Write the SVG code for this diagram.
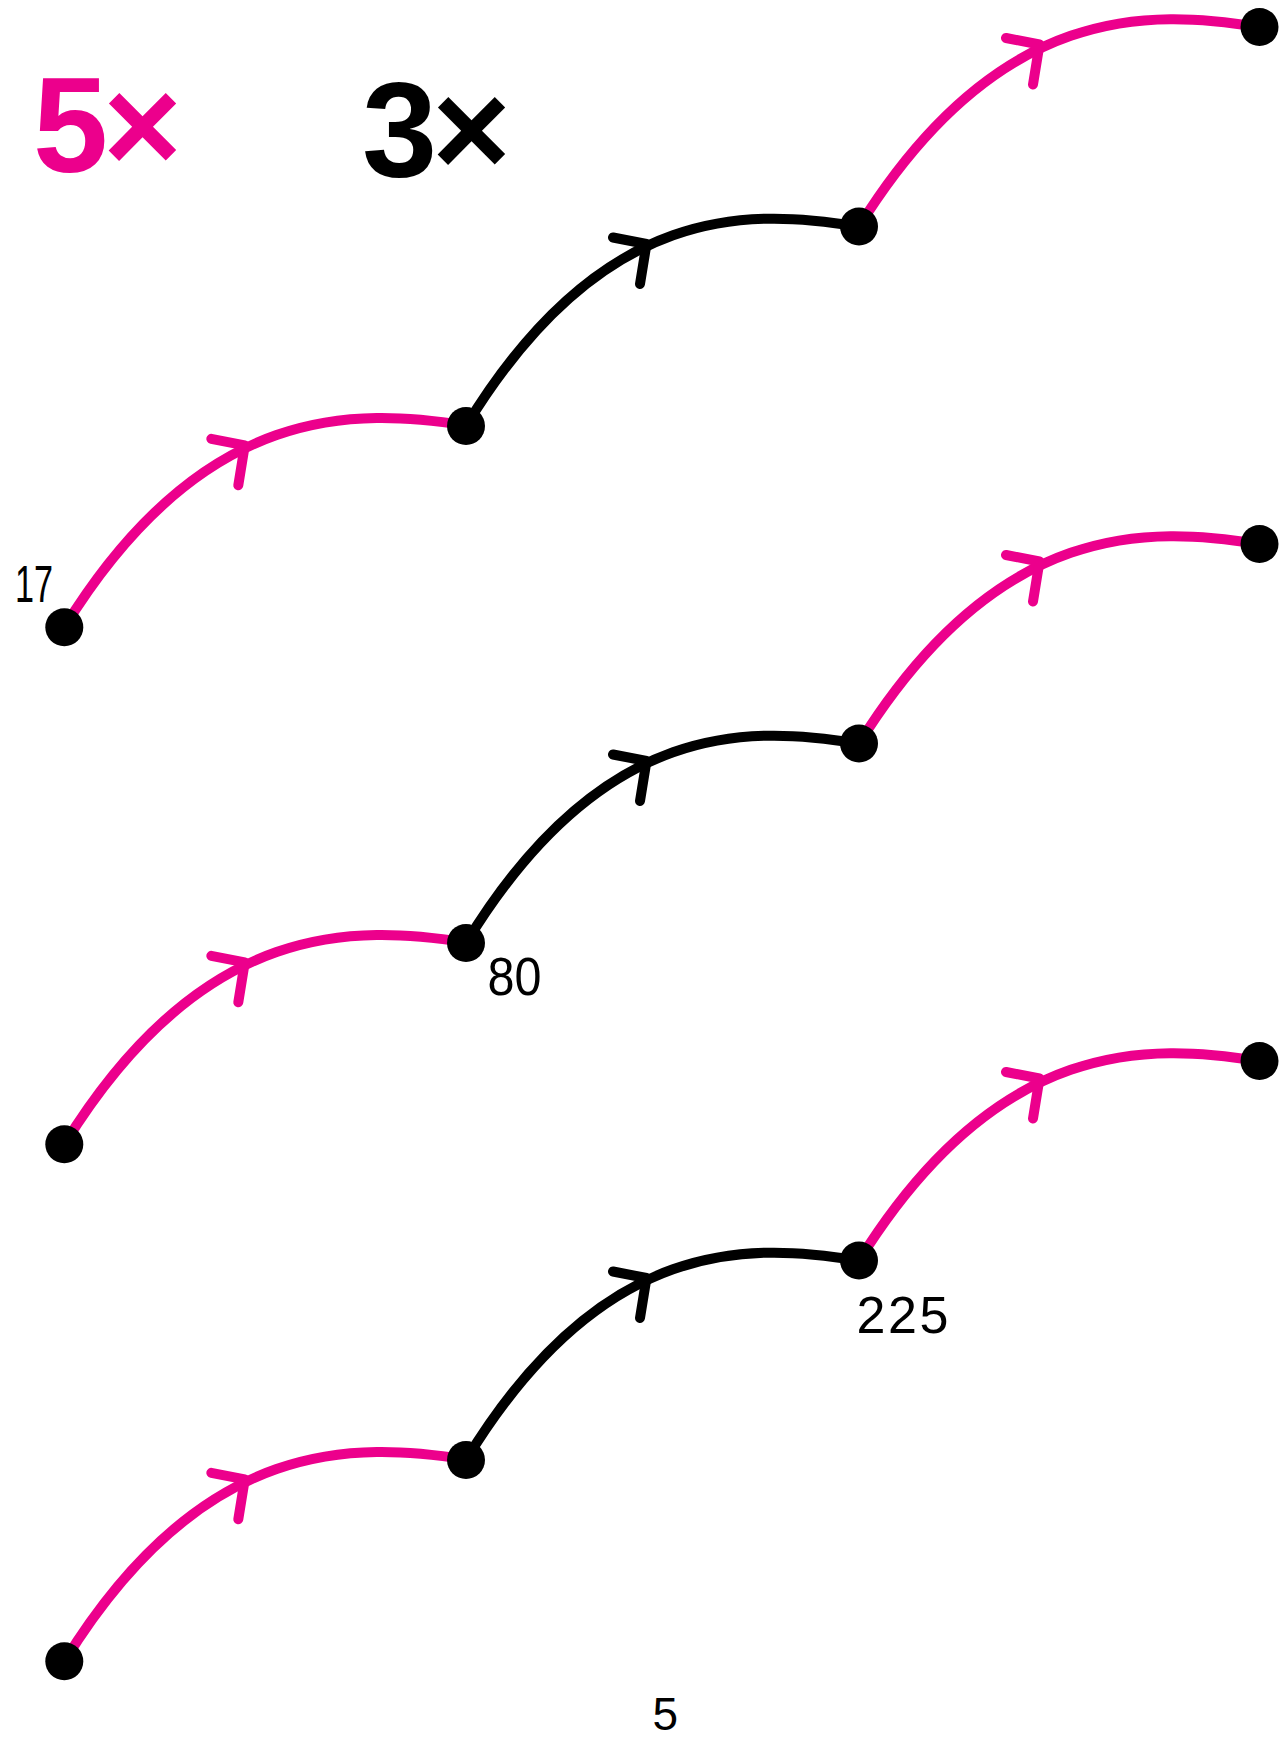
<svg xmlns="http://www.w3.org/2000/svg" width="1283" height="1739" viewBox="0 0 1283 1739">
<style>
.p{fill:none;stroke:#EC008C;stroke-width:10;stroke-linecap:round;stroke-linejoin:round}
.k{fill:none;stroke:#000;stroke-width:10;stroke-linecap:round;stroke-linejoin:round}
.n{fill:#000}
.big{font-family:"Liberation Sans",Arial,sans-serif;font-weight:bold;font-size:135px}
.lbl{font-family:"Liberation Sans",Arial,sans-serif;fill:#000}
</style>
<defs>
<path id="s1" d="M0,0 C140,-226.8 292,-218.5 402,-202"/>
<path id="s2" d="M0,0 C137,-225 284,-217 393,-199.5"/>
<path id="s3" d="M0,0 C140,-225 291,-217 400.5,-199.5"/>
<path id="ch" d="M147,-188.5 L180.5,-182 L174,-142"/>
</defs>
<rect width="1283" height="1739" fill="#fff"/>
<g id="connectors">
<g transform="translate(64.3,627.3)" class="p"><use href="#s1"/><use href="#ch"/></g>
<g transform="translate(466,426)" class="k"><use href="#s2"/><use href="#ch"/></g>
<g transform="translate(859,226.5)" class="p"><use href="#s3"/><use href="#ch"/></g>
<g transform="translate(64.3,1144.3)" class="p"><use href="#s1"/><use href="#ch"/></g>
<g transform="translate(466,943)" class="k"><use href="#s2"/><use href="#ch"/></g>
<g transform="translate(859,743.5)" class="p"><use href="#s3"/><use href="#ch"/></g>
<g transform="translate(64.3,1661.3)" class="p"><use href="#s1"/><use href="#ch"/></g>
<g transform="translate(466,1460)" class="k"><use href="#s2"/><use href="#ch"/></g>
<g transform="translate(859,1260.5)" class="p"><use href="#s3"/><use href="#ch"/></g>
</g>
<g id="nodes">
<circle id="n1a" class="n" cx="64.3" cy="627.3" r="19"/>
<circle id="n1b" class="n" cx="466" cy="426" r="19"/>
<circle id="n1c" class="n" cx="859" cy="226.5" r="19"/>
<circle id="n1d" class="n" cx="1259.5" cy="27" r="19"/>
<circle id="n2a" class="n" cx="64.3" cy="1144.3" r="19"/>
<circle id="n2b" class="n" cx="466" cy="943" r="19"/>
<circle id="n2c" class="n" cx="859" cy="743.5" r="19"/>
<circle id="n2d" class="n" cx="1259.5" cy="544" r="19"/>
<circle id="n3a" class="n" cx="64.3" cy="1661.3" r="19"/>
<circle id="n3b" class="n" cx="466" cy="1460" r="19"/>
<circle id="n3c" class="n" cx="859" cy="1260.5" r="19"/>
<circle id="n3d" class="n" cx="1259.5" cy="1061" r="19"/>
</g>
<g id="titles">
<text class="big" fill="#EC008C" y="172"><tspan x="33">5</tspan><tspan x="103">×</tspan></text>
<text class="big" fill="#000" y="176"><tspan x="362">3</tspan><tspan x="432">×</tspan></text>
</g>
<g id="labels">
<text class="lbl" x="15" y="601.5" font-size="52" textLength="38" lengthAdjust="spacingAndGlyphs">17</text>
<text class="lbl" x="487.5" y="995" font-size="54" textLength="54" lengthAdjust="spacingAndGlyphs">80</text>
<text class="lbl" x="856.5" y="1333" font-size="52" textLength="92" lengthAdjust="spacing">225</text>
<text class="lbl" x="652.5" y="1730" font-size="46">5</text>
</g>
</svg>
